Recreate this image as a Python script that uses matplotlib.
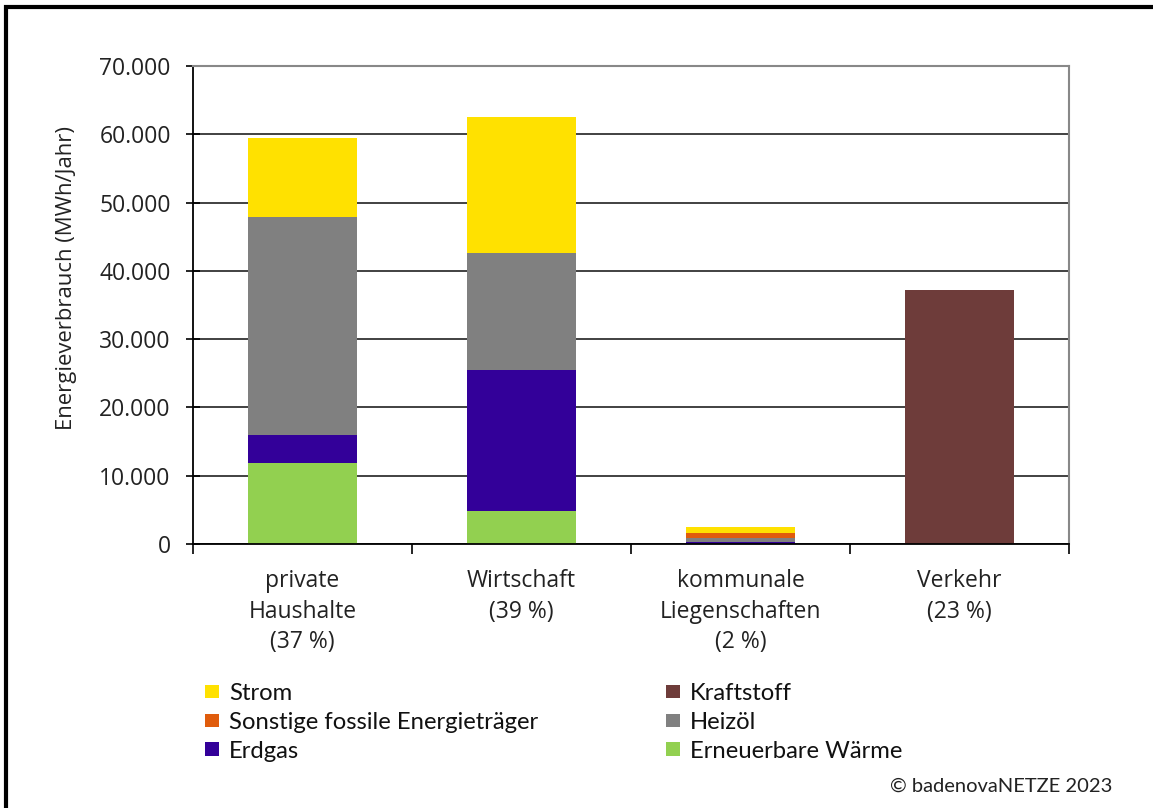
import matplotlib
matplotlib.use("Agg")
import matplotlib.pyplot as plt
from matplotlib.patches import Rectangle
from matplotlib.ticker import FuncFormatter, MultipleLocator
import numpy as np

categories = ['private\nHaushalte\n(37 %)', 'Wirtschaft\n(39 %)',
              'kommunale\nLiegenschaften\n(2 %)', 'Verkehr\n(23 %)']

# MWh/Jahr, stacked bottom -> top
erneuerbare = [11900, 4800, 0, 0]
erdgas = [4100, 20700, 350, 0]
heizoel = [31900, 17100, 530, 0]
sonstige = [0, 0, 730, 0]
strom = [11500, 19900, 880, 0]
kraftstoff = [0, 0, 0, 37200]

colors = {
    'Strom': '#FFE100',
    'Sonstige fossile Energieträger': '#E05C0C',
    'Erdgas': '#330099',
    'Kraftstoff': '#6E3C3A',
    'Heizöl': '#808080',
    'Erneuerbare Wärme': '#92D050',
}

plt.rcParams['font.family'] = ['Open Sans', 'DejaVu Sans']

fig = plt.figure(figsize=(11.53, 8.08), dpi=100)
ax = fig.add_axes([0.1674, 0.3267, 0.7597, 0.5916])

x = np.arange(len(categories))
w = 0.5
bars = {}
bottom = np.zeros(len(categories))
for name, vals in [('Erneuerbare Wärme', erneuerbare), ('Erdgas', erdgas),
                   ('Heizöl', heizoel), ('Sonstige fossile Energieträger', sonstige),
                   ('Strom', strom), ('Kraftstoff', kraftstoff)]:
    bars[name] = ax.bar(x, vals, w, bottom=bottom, color=colors[name], zorder=3)
    bottom += np.array(vals)

ax.set_xlim(-0.5, 3.5)
ax.set_ylim(0, 70000)
ax.yaxis.set_major_locator(MultipleLocator(10000))
ax.yaxis.set_major_formatter(FuncFormatter(lambda v, p: f'{int(v):,}'.replace(',', '.')))
ax.grid(axis='y', color='#333333', linewidth=1.3, zorder=0)

ax.set_xticks(x)
ax.set_xticklabels(categories, fontsize=16.5, linespacing=1.36, color='#222222')
ax.set_xticks(np.arange(-0.5, 4, 1), minor=True)
ax.tick_params(axis='x', which='major', length=0, pad=18)
ax.tick_params(axis='x', which='minor', length=7, width=1.2, direction='out')
ax.tick_params(axis='y', labelsize=16.5, labelcolor='#222222', length=10, width=1.2,
               direction='inout', pad=11)

for s in ['left', 'bottom']:
    ax.spines[s].set_color('black')
    ax.spines[s].set_linewidth(1.3)
for s in ['top', 'right']:
    ax.spines[s].set_color('#888888')
    ax.spines[s].set_linewidth(1.5)
ax.spines['bottom'].set_zorder(4)

fig.text(67 / 1153, 1 - 278 / 808, 'Energieverbrauch (MWh/Jahr)', rotation=90,
         ha='center', va='center', fontsize=15.9, color='#222222')

order = ['Strom', 'Sonstige fossile Energieträger', 'Erdgas',
         'Kraftstoff', 'Heizöl', 'Erneuerbare Wärme']
fig.legend([bars[n] for n in order], order, ncol=2, loc='upper left',
           bbox_to_anchor=(205 / 1153, 1 - 683 / 808), frameon=False,
           prop={'family': 'Lato', 'size': 17.2},
           handlelength=0.59, handleheight=0.51, handletextpad=0.42,
           labelspacing=0.33, columnspacing=5.35, borderaxespad=0, borderpad=0,
           labelcolor='#111111')

fig.text(1112 / 1153, 0.027, '© badenovaNETZE 2023', ha='right', va='center',
         fontsize=14.5, family='Lato', color='#222222')

fig.patches.append(Rectangle((0.0055, -0.1), 1.2, 1.0913, transform=fig.transFigure,
                             fill=False, edgecolor='black', linewidth=3))

fig.savefig('out.png', dpi=100)
